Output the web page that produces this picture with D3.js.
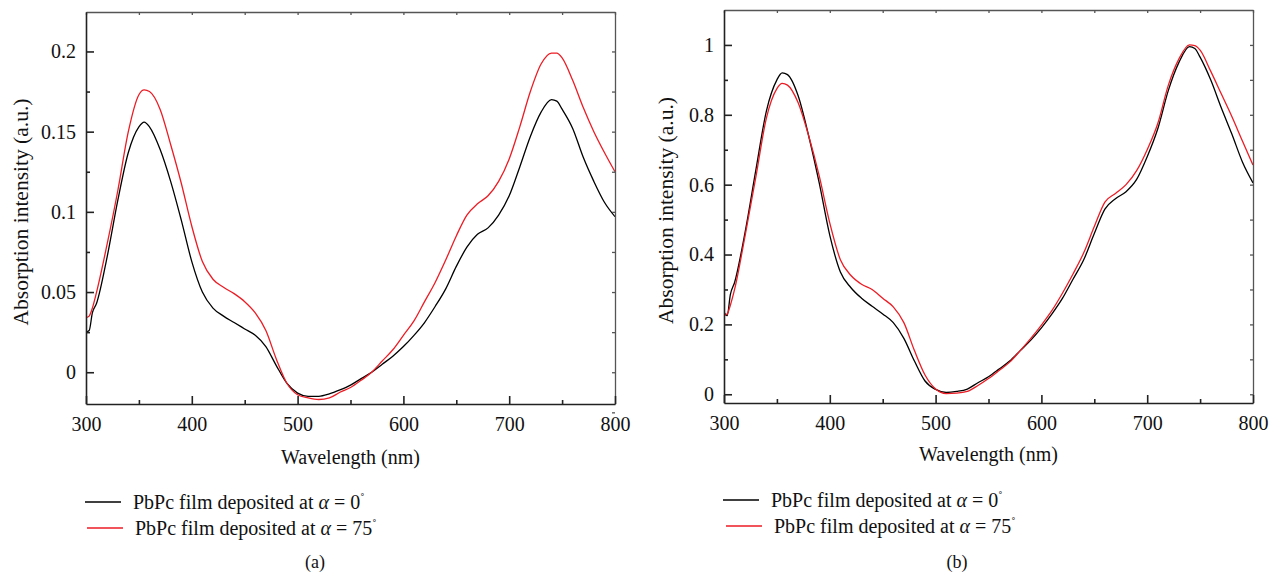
<!DOCTYPE html>
<html>
<head>
<meta charset="utf-8">
<script src="https://cdnjs.cloudflare.com/ajax/libs/d3/7.8.5/d3.min.js"></script>
<style>
body { margin: 0; background: #fff; }
svg text { font-family: "Liberation Serif", "DejaVu Serif", serif; fill: #111; }
</style>
</head>
<body>
<svg width="1277" height="577"></svg>
<script>
// wavelength grid (nm), shared by all four spectra
var wavelength = [300, 303, 306, 310, 320, 330, 340, 350, 355, 360, 370, 380, 390, 400,
    410, 420, 430, 440, 450, 460, 470, 480, 490, 500, 510, 520, 530, 540, 550, 560,
    570, 580, 590, 600, 610, 620, 630, 640, 650, 660, 670, 680, 690, 700, 710, 720,
    730, 740, 745, 750, 760, 770, 780, 790, 800];

// (a) absorption spectra
var absA0 = [0.025, 0.026, 0.037, 0.043, 0.072, 0.107, 0.137, 0.153, 0.156, 0.153, 0.139,
    0.119, 0.095, 0.069, 0.050, 0.040, 0.035, 0.031, 0.027, 0.023, 0.016, 0.004, -0.007,
    -0.013, -0.015, -0.015, -0.0135, -0.011, -0.008, -0.004, 0.0, 0.005, 0.010, 0.016,
    0.023, 0.031, 0.041, 0.052, 0.066, 0.078, 0.086, 0.090, 0.098, 0.110, 0.128, 0.147,
    0.162, 0.170, 0.169, 0.164, 0.152, 0.134, 0.119, 0.106, 0.097];
var absA75 = [0.034, 0.035, 0.040, 0.050, 0.080, 0.113, 0.150, 0.173, 0.176, 0.175, 0.164,
    0.142, 0.118, 0.091, 0.069, 0.058, 0.053, 0.049, 0.044, 0.037, 0.026, 0.008, -0.007,
    -0.014, -0.016, -0.017, -0.016, -0.0125, -0.0095, -0.005, 0.0, 0.007, 0.014, 0.023,
    0.032, 0.044, 0.056, 0.070, 0.085, 0.098, 0.105, 0.110, 0.119, 0.133, 0.153, 0.175,
    0.192, 0.199, 0.199, 0.196, 0.182, 0.165, 0.150, 0.137, 0.125];

// (b) normalised spectra
var absB0 = [0.235, 0.225, 0.285, 0.32, 0.465, 0.64, 0.81, 0.90, 0.92, 0.915, 0.855, 0.74,
    0.605, 0.455, 0.35, 0.305, 0.275, 0.252, 0.23, 0.205, 0.16, 0.095, 0.038, 0.014, 0.005,
    0.008, 0.015, 0.033, 0.05, 0.072, 0.095, 0.125, 0.155, 0.19, 0.23, 0.275, 0.33, 0.385,
    0.46, 0.53, 0.56, 0.58, 0.615, 0.68, 0.76, 0.87, 0.95, 0.995, 0.99, 0.965, 0.90, 0.82,
    0.745, 0.665, 0.605];
var absB75 = [0.225, 0.23, 0.255, 0.30, 0.455, 0.62, 0.79, 0.875, 0.89, 0.885, 0.835, 0.74,
    0.625, 0.49, 0.385, 0.34, 0.315, 0.30, 0.275, 0.25, 0.205, 0.125, 0.055, 0.015, 0.002,
    0.003, 0.008, 0.025, 0.045, 0.068, 0.092, 0.125, 0.16, 0.198, 0.24, 0.29, 0.345, 0.405,
    0.48, 0.55, 0.575, 0.60, 0.64, 0.70, 0.775, 0.885, 0.96, 1.0, 0.998, 0.985, 0.925, 0.86,
    0.795, 0.725, 0.656];

var xTicks = [300, 400, 500, 600, 700, 800];
var xMinorTicks = [350, 450, 550, 650, 750];
var yTicksA = [0, 0.05, 0.1, 0.15, 0.2];
var yMinorA = [-0.025, 0.025, 0.075, 0.125, 0.175];
var yTicksB = [0, 0.2, 0.4, 0.6, 0.8, 1];
var yMinorB = [0.1, 0.3, 0.5, 0.7, 0.9];
var angles = ["0", "75"];
var colors = ["#000000", "#ec1c24"];

var svg = d3.select("svg");

function drawPanel(p) {
    var x = d3.scaleLinear().domain([300, 800]).range([p.left, p.right]);
    var y = d3.scaleLinear().domain(p.yDomain).range([p.bottom, p.top]);
    var g = svg.append("g");

    g.append("clipPath").attr("id", "clip-" + p.id)
        .append("rect")
        .attr("x", p.left).attr("y", p.top)
        .attr("width", p.right - p.left).attr("height", p.bottom - p.top);

    var line = d3.line()
        .x(function (d) { return x(d[0]); })
        .y(function (d) { return y(d[1]); })
        .curve(d3.curveMonotoneX);

    p.series.forEach(function (s, i) {
        g.append("path")
            .datum(wavelength.map(function (w, j) { return [w, s[j]]; }))
            .attr("clip-path", "url(#clip-" + p.id + ")")
            .attr("fill", "none")
            .attr("stroke", colors[i])
            .attr("stroke-width", 1.3)
            .attr("d", line);
    });

    // top and right mirror axes, short inward ticks
    var topAx = g.append("g").attr("transform", "translate(0," + p.top + ")")
        .call(d3.axisTop(x).tickValues(xTicks.concat(xMinorTicks)).tickSize(-3).tickSizeOuter(0).tickFormat(""));
    var rightAx = g.append("g").attr("transform", "translate(" + p.right + ",0)")
        .call(d3.axisRight(y).tickValues(p.yMajor.concat(p.yMinor)).tickSize(-3).tickSizeOuter(0).tickFormat(""));
    [topAx, rightAx].forEach(function (a) {
        a.selectAll("path,line").attr("stroke", "#555").attr("stroke-width", 1.3);
    });

    // bottom axis
    var bx = g.append("g").attr("transform", "translate(0," + p.bottom + ")");
    bx.call(d3.axisBottom(x).tickValues(xTicks).tickSize(-8).tickSizeOuter(0).tickPadding(13));
    bx.append("g").call(d3.axisBottom(x).tickValues(xMinorTicks).tickSize(-4).tickFormat(""))
        .select(".domain").remove();

    // left axis
    var ly = g.append("g").attr("transform", "translate(" + p.left + ",0)");
    ly.call(d3.axisLeft(y).tickValues(p.yMajor).tickSize(-8).tickSizeOuter(0).tickPadding(10)
        .tickFormat(function (d) { return d3.format("~g")(d); }));
    ly.append("g").call(d3.axisLeft(y).tickValues(p.yMinor.filter(function (v) { return v >= p.yDomain[0]; }))
        .tickSize(-4).tickFormat("")).select(".domain").remove();

    [bx, ly].forEach(function (a) {
        a.selectAll("path,line").attr("stroke", "#222").attr("stroke-width", 1.6);
        a.selectAll("text").attr("font-size", 20).attr("fill", "#111")
            .attr("font-family", "Liberation Serif, DejaVu Serif, serif");
    });

    // axis titles
    g.append("text")
        .attr("x", (p.left + p.right) / 2).attr("y", p.xTitleY)
        .attr("text-anchor", "middle").attr("font-size", 20)
        .text("Wavelength (nm)");
    g.append("text")
        .attr("transform", "translate(" + p.yTitleX + "," + ((p.top + p.bottom) / 2 + 4) + ") rotate(-90)")
        .attr("text-anchor", "middle").attr("font-size", 21.5)
        .text("Absorption intensity (a.u.)");

    // legend
    angles.forEach(function (a, i) {
        var lx = p.legendX + p.legendShift[i];
        var ly0 = p.legendY + i * 26;
        g.append("line")
            .attr("x1", lx).attr("x2", lx + 36)
            .attr("y1", ly0).attr("y2", ly0)
            .attr("stroke", colors[i]).attr("stroke-width", 1.3);
        var t = g.append("text")
            .attr("x", lx + 48).attr("y", ly0 + 7)
            .attr("font-size", 20);
        t.append("tspan").text("PbPc film deposited at ");
        t.append("tspan").attr("font-style", "italic").text("\u03b1");
        t.append("tspan").text(" = " + a);
        t.append("tspan").attr("font-size", 13).attr("dy", -7).text("\u02da");
    });

    g.append("text")
        .attr("x", p.captionX).attr("y", 568)
        .attr("text-anchor", "middle").attr("font-size", 18)
        .text(p.caption);
}

drawPanel({
    id: "a", left: 86, right: 615, top: 12, bottom: 404,
    yDomain: [-0.0198, 0.2246], yMajor: yTicksA, yMinor: yMinorA,
    series: [absA0, absA75],
    xTitleY: 464, yTitleX: 28,
    legendX: 85, legendY: 502, legendShift: [0, 2],
    captionX: 315, caption: "(a)"
});

drawPanel({
    id: "b", left: 724, right: 1253, top: 10, bottom: 403,
    yDomain: [-0.025, 1.1], yMajor: yTicksB, yMinor: yMinorB,
    series: [absB0, absB75],
    xTitleY: 461, yTitleX: 673,
    legendX: 723, legendY: 500, legendShift: [0, 3],
    captionX: 957, caption: "(b)"
});
</script>
</body>
</html>
